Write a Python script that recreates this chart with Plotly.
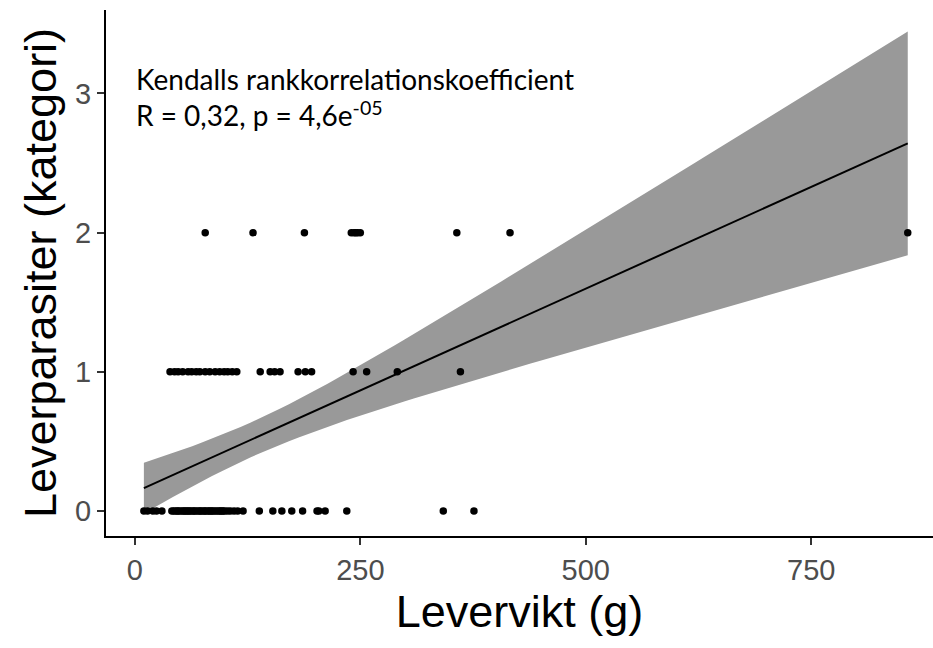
import numpy as np
import plotly.graph_objects as go

# Liver weight (g) for each fish, grouped by liver-parasite category
weight_cat0 = [10, 14, 20, 24, 30,
               41, 43, 45, 47, 48, 50, 52, 54, 55, 57, 58, 60, 61, 63, 65, 66, 68, 70,
               72, 73, 75, 77, 78, 80, 82, 83, 85, 86, 88, 90, 92, 94, 95, 97, 98, 100,
               103, 106, 110, 114, 120,
               138, 153, 163, 174, 186, 202, 204, 211, 235, 342, 376]
weight_cat1 = [39, 44, 48, 53, 59, 63, 68, 72, 78, 83, 89, 94, 99, 103, 108, 113,
               139, 150, 155, 161, 181, 189, 196, 242, 257, 291, 361]
weight_cat2 = [78, 131, 188, 240, 243, 245, 247, 250, 357, 416, 857]

categories = [0, 1, 2]
weights = [weight_cat0, weight_cat1, weight_cat2]

x = np.concatenate([np.array(w, dtype=float) for w in weights])
y = np.concatenate([np.full(len(w), c, dtype=float) for w, c in zip(weights, categories)])

# Linear model with 95% confidence band
n = len(x)
slope, intercept = np.polyfit(x, y, 1)
resid = y - (intercept + slope * x)
s = np.sqrt(np.sum(resid ** 2) / (n - 2))
xbar = x.mean()
sxx = np.sum((x - xbar) ** 2)
t_crit = 1.99
xs = np.linspace(x.min(), x.max(), 80)
fit = intercept + slope * xs
half = t_crit * s * np.sqrt(1.0 / n + (xs - xbar) ** 2 / sxx)
upper = fit + half
lower = fit - half

fig = go.Figure()
fig.add_trace(go.Scatter(
    x=np.concatenate([xs, xs[::-1]]),
    y=np.concatenate([upper, lower[::-1]]),
    fill="toself", fillcolor="#999999", line=dict(width=0),
    mode="lines", hoverinfo="skip", showlegend=False))
fig.add_trace(go.Scatter(x=xs, y=fit, mode="lines",
                         line=dict(color="black", width=2), showlegend=False))
fig.add_trace(go.Scatter(x=x, y=y, mode="markers",
                         marker=dict(color="black", size=7.5), showlegend=False))

fig.add_annotation(
    x=0.034, y=0.905, xref="paper", yref="paper", xanchor="left", yanchor="top",
    align="left", showarrow=False,
    text="Kendalls rankkorrelationskoefficient<br>R = 0,32, p = 4,6e<sup>-05</sup>",
    font=dict(family="Lato, Open Sans, sans-serif", size=28, color="black"))

tick_font = dict(family="Liberation Sans, Arial, sans-serif", size=29, color="#4D4D4D")
title_font = dict(family="Liberation Sans, Arial, sans-serif", size=45, color="black")

axis_common = dict(
    showline=True, linecolor="black", linewidth=2, mirror=False,
    showgrid=False, zeroline=False,
    ticks="outside", ticklen=7, tickwidth=2, tickcolor="#333333",
    tickfont=tick_font,
)

fig.update_layout(
    width=933, height=648,
    margin=dict(l=106, r=0, t=10, b=112),
    paper_bgcolor="white", plot_bgcolor="white",
    xaxis=dict(range=[-32, 885], tickvals=[0, 250, 500, 750],
               title=dict(text="Levervikt (g)", standoff=2, font=title_font),
               **axis_common),
    yaxis=dict(range=[-0.18, 3.6], tickvals=[0, 1, 2, 3],
               title=dict(text="Leverparasiter (kategori)", standoff=4, font=title_font),
               **axis_common),
)

fig.write_html("out.html")
